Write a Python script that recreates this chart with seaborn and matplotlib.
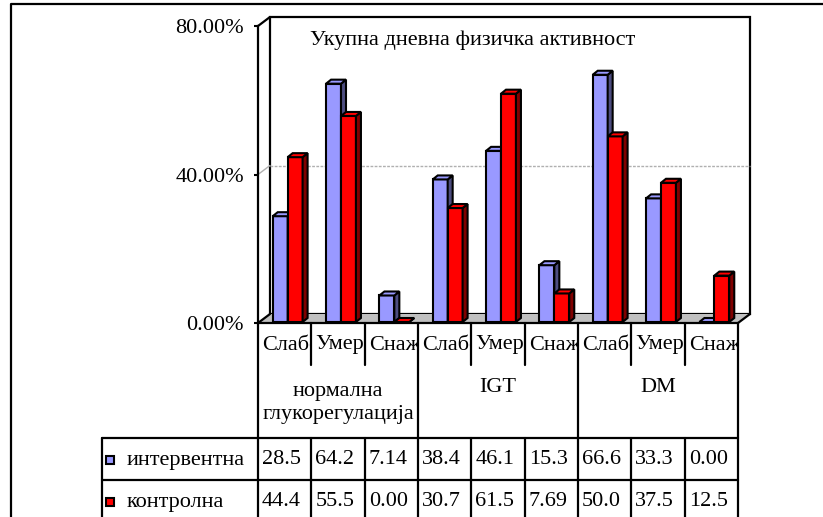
import pandas as pd
import matplotlib
matplotlib.use('Agg')
import matplotlib.pyplot as plt
import matplotlib.transforms as mtransforms
from matplotlib.patches import Polygon, Rectangle
from matplotlib.lines import Line2D
import seaborn as sns

# data
groups = ['нормална\nглукорегулација', 'IGT', 'DM']
levels = ['Слабо', 'Умерено', 'Снажно']
series = ['интервентна', 'контролна']
intervention = [28.5, 64.2, 7.14, 38.4, 46.1, 15.3, 66.6, 33.3, 0.00]
control = [44.4, 55.5, 0.00, 30.7, 61.5, 7.69, 50.0, 37.5, 12.5]
yticks = [0, 40, 80]
title = 'Укупна дневна физичка активност'

front_colors = ['#9999ff', '#ff0000']
side_colors = ['#4d4d80', '#800000']

W, H = 823, 517
sns.set_theme(style='white')
plt.rcParams['font.family'] = ['Liberation Serif', 'DejaVu Serif']
FS = 16

cols = [f'{g}|{l}' for g in groups for l in levels]
df = pd.DataFrame({
    'col': cols * 2,
    'series': [series[0]] * len(cols) + [series[1]] * len(cols),
    'value': intervention + control,
})

fig = plt.figure(figsize=(W / 100, H / 100), dpi=100)
# image pixel coords (y down) for layout
pix = mtransforms.Affine2D().scale(1 / W, -1 / H).translate(0, 1) + fig.transFigure

ax_l, ax_r, ax_t, ax_b = 258, 738, 26, 323
ax = fig.add_axes([ax_l / W, 1 - ax_b / H, (ax_r - ax_l) / W, (ax_b - ax_t) / H])
ax.patch.set_visible(False)

sns.barplot(data=df, x='col', y='value', hue='series', order=cols, hue_order=series,
            palette=front_colors, width=0.56, gap=0, saturation=1,
            edgecolor='black', linewidth=1.5, legend=False, ax=ax, zorder=4)
ax.set_xlim(-0.5, len(cols) - 0.5)
ax.set_ylim(yticks[0], yticks[-1])
ax.set_xticks([])
ax.set_xlabel('')
ax.set_ylabel('')
for s in ['top', 'right', 'bottom']:
    ax.spines[s].set_visible(False)
ax.spines['left'].set_linewidth(1.6)
ax.spines['left'].set_color('black')
ax.set_yticks(yticks)
ax.set_yticklabels([f'{v:.2f}%' for v in yticks])
ax.tick_params(axis='y', left=True, direction='out', length=3, width=1.5,
               pad=7, labelsize=FS, colors='black')

# px per data unit
ux = (ax_r - ax_l) / len(cols)
uy = (ax_b - ax_t) / (yticks[-1] - yticks[0])
wdx, wdy = 12 / ux, 9 / uy      # wall depth
bdx, bdy = 5 / ux, 4 / uy       # bar depth
x0, x1 = -0.5, len(cols) - 0.5
ytop = yticks[-1]

# back wall
ax.add_patch(Rectangle((x0 + wdx, wdy), x1 - x0, ytop, fc='white', ec='black',
                       lw=1.6, zorder=0.5, clip_on=False))
for t in yticks[1:-1]:
    ax.plot([x0 + wdx, x1 + wdx], [t + wdy] * 2, color='#b0b0b0', lw=1, ls=(0, (2, 1)),
            zorder=1, clip_on=False)
    ax.plot([x0, x0 + wdx], [t, t + wdy], color='#b0b0b0', lw=1, zorder=1, clip_on=False)
ax.plot([x0, x0 + wdx], [ytop, ytop + wdy], color='black', lw=1.6, zorder=1, clip_on=False)

# floor
ax.add_patch(Polygon([(x0, 0), (x1, 0), (x1 + wdx, wdy), (x0 + wdx, wdy)],
                     closed=True, fc='#c0c0c0', ec='none', zorder=2, clip_on=False))
ax.plot([x0, x1], [0, 0], color='black', lw=1.6, zorder=3, clip_on=False)
ax.plot([x0, x0 + wdx], [0, wdy], color='black', lw=1.6, zorder=3, clip_on=False)
ax.plot([x1, x1 + wdx], [0, wdy], color='black', lw=1.6, zorder=3, clip_on=False)

# 3d sides and tops of the bars
shift = ax.transData + mtransforms.ScaledTranslation(3 / 100, 1 / 100, fig.dpi_scale_trans)
bars = list(ax.patches)
nb = len(cols)
for i, p in enumerate(bars[:2 * nb]):
    si = i // nb
    z = 4 + si
    p.set_transform(shift)
    p.set_zorder(z)
    bx, bw, bh = p.get_x(), p.get_width(), p.get_height()
    xr = bx + bw
    side = Polygon([(xr, 0), (xr + bdx, bdy), (xr + bdx, bh + bdy), (xr, bh)], closed=True,
                   fc=side_colors[si], ec='black', lw=1.5, transform=shift, zorder=z, clip_on=False)
    top = Polygon([(bx, bh), (bx + bdx, bh + bdy), (xr + bdx, bh + bdy), (xr, bh)], closed=True,
                  fc=front_colors[si], ec='black', lw=1.5, transform=shift, zorder=z, clip_on=False)
    ax.add_patch(side)
    ax.add_patch(top)

# data table under the chart
bl = mtransforms.blended_transform_factory(ax.transData, pix)
r0, r1, r2, r3, r4 = 323, 365, 438, 480, 522
leg_l = 102
lk = dict(color='black', lw=1.6, zorder=6)


def cell_clip(xa, ya, xb, yb):
    pa = bl.transform((xa, ya))
    pb = bl.transform((xb, yb))
    return mtransforms.Bbox.from_extents(min(pa[0], pb[0]), min(pa[1], pb[1]),
                                         max(pa[0], pb[0]), max(pa[1], pb[1]))


for b in range(len(cols) + 1):
    xb = b - 0.5
    if b % len(levels) == 0:
        fig.add_artist(Line2D([xb, xb], [r0, r4 + 20], transform=bl, **lk))
    else:
        fig.add_artist(Line2D([xb, xb], [r0, r1], transform=bl, **lk))
        fig.add_artist(Line2D([xb, xb], [r2, r4 + 20], transform=bl, **lk))
for yy in [r2, r3]:
    fig.add_artist(Line2D([leg_l, ax_r], [yy, yy], transform=pix, **lk))
fig.add_artist(Line2D([leg_l, leg_l], [r2, r4 + 20], transform=pix, **lk))

pad = 4 / ux
for k, c in enumerate(cols):
    lvl = c.split('|')[1]
    t = ax.text(k - 0.5 + pad, (r0 + r1) / 2 + 1, lvl, transform=bl, ha='left', va='center',
                fontsize=FS, color='black', clip_on=True)
    t.set_clip_path(None)
    t.set_clip_box(cell_clip(k - 0.5, r0, k + 0.5, r1))

for gi, g in enumerate(groups):
    xc = gi * len(levels) + (len(levels) - 1) / 2
    yc = 403 if '\n' in g else 388
    t = ax.text(xc, yc, g, transform=bl, ha='center', va='center', fontsize=FS,
                linespacing=1.25, color='black', clip_on=True)
    t.set_clip_path(None)
    t.set_clip_box(cell_clip(gi * len(levels) - 0.5, r1, gi * len(levels) + len(levels) - 0.5, r2))

for si, vals in enumerate([intervention, control]):
    yc = [(r2 + r3) / 2 + 1, (r3 + r4) / 2 + 1][si]
    for k, v in enumerate(vals):
        ax.text(k - 0.5 + pad, yc, f'{v:#.3g}', transform=bl, ha='left', va='center',
                fontsize=FS, color='black', clip_on=False)
    fig.add_artist(Rectangle((106, yc - 4), 8, 8, transform=pix, fc=front_colors[si],
                             ec='black', lw=1.5, zorder=6))
    fig.text(127, yc, series[si], transform=pix, ha='left', va='center', fontsize=FS, color='black')

fig.text(310, 40, title, transform=pix, ha='left', va='center', fontsize=FS, color='black')

# outer frame
fig.add_artist(Line2D([11, 11, W + 10], [H + 10, 4, 4], transform=pix, color='black', lw=1.6))

fig.savefig('out.png', dpi=100, facecolor='white')
